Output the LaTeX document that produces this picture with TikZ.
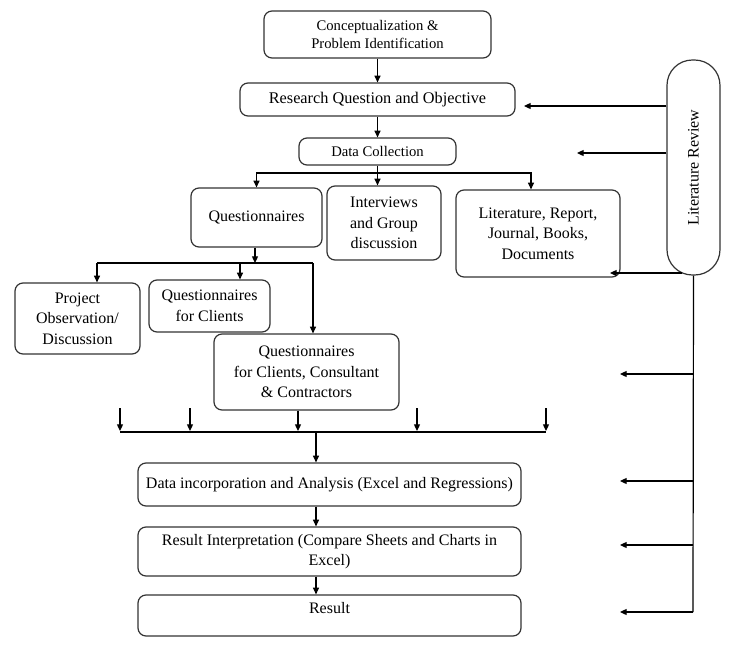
\documentclass[tikz,border=0pt]{standalone}
\usepackage{fontspec}
\setmainfont{Liberation Serif}
\usetikzlibrary{arrows.meta,calc}
\begin{document}
\begin{tikzpicture}[x=0.75pt,y=-0.75pt,
  box/.style={draw=black!80,line width=0.9pt,rounded corners=6pt,align=center,inner sep=1pt,font=\fontsize{12}{15.5}\selectfont},
  arr/.style={line width=0.9pt,-{Triangle[length=5pt,width=4.5pt]}},
  ln/.style={line width=0.9pt}]
\useasboundingbox (0,0) rectangle (744,650);
% nodes
\node[box,minimum width=227*0.75pt,minimum height=47*0.75pt,font=\fontsize{11}{14}\selectfont] (concept) at (377.5,34.5) {Conceptualization \&\\ Problem Identification};
\node[box,minimum width=275*0.75pt,minimum height=33*0.75pt,font=\fontsize{12.2}{14}\selectfont] (rq) at (377.5,99.5) {Research Question and Objective};
\node[box,minimum width=157*0.75pt,minimum height=27*0.75pt,font=\fontsize{11}{13}\selectfont] (dc) at (377.5,151.5) {Data Collection};
\node[box,minimum width=131*0.75pt,minimum height=59*0.75pt] (quest) at (256.5,217.5) {Questionnaires};
\node[box,minimum width=114*0.75pt,minimum height=74*0.75pt] (interv) at (384,223) {Interviews\\ and Group\\ discussion};
\node[box,minimum width=164*0.75pt,minimum height=87*0.75pt] (lit) at (538,233.5) {Literature, Report,\\ Journal, Books,\\ Documents};
\node[box,minimum width=53*0.75pt,minimum height=215*0.75pt,rounded corners=19pt] (litrev) at (693.5,167.5) {};
\node[rotate=90,font=\fontsize{12}{14}\selectfont] (litrevt) at (litrev.center) {Literature Review};
\node[box,minimum width=125*0.75pt,minimum height=71*0.75pt] (proj) at (77.5,318.5) {Project\\ Observation/\\ Discussion};
\node[box,minimum width=121*0.75pt,minimum height=52*0.75pt] (qcl) at (209.5,306) {Questionnaires\\ for Clients};
\node[box,minimum width=185*0.75pt,minimum height=76*0.75pt] (qcc) at (306.5,372) {Questionnaires\\ for Clients, Consultant\\ \& Contractors};
\node[box,minimum width=383*0.75pt,minimum height=43*0.75pt] (dia) at (329.5,484.5) {Data incorporation and Analysis (Excel and Regressions)};
\node[box,minimum width=383*0.75pt,minimum height=49*0.75pt] (ri) at (329.5,551.5) {Result Interpretation (Compare Sheets and Charts in\\ Excel)};
\node[box,minimum width=383*0.75pt,minimum height=41*0.75pt] (res) at (329.5,615.5) {Result\\[-4pt]\mbox{}};
% top connectors
\draw[arr] (concept) -- (rq);
\draw[arr] (rq) -- (dc);
\coordinate (j1) at (377.5,173);
\coordinate (litin) at (531,173);
\draw[arr] (dc.south) -- (dc.south |- interv.north);
\draw[arr] (j1) -| (quest.north);
\draw[arr] (j1) -- (litin) -- (litin |- lit.north);
% questionnaires split
\coordinate (j2) at (255,263);
\coordinate (p1) at (97,263);
\coordinate (p2) at (240,263);
\coordinate (p3) at (313,263);
\draw[arr] (quest.south -| j2) -- (j2);
\draw[ln] (p1) -- (p3);
\draw[arr] (p1) -- (p1 |- proj.north);
\draw[arr] (p2) -- (p2 |- qcl.north);
\draw[arr] (p3) -- (p3 |- qcc.north);
% bottom collector
\coordinate (b1) at (120,432);
\coordinate (b2) at (190,432);
\coordinate (b3) at (298,432);
\coordinate (b4) at (417,432);
\coordinate (b5) at (546,432);
\coordinate (b0) at (316,432);
\draw[ln] (b1) -- (b5);
\foreach \c in {b1,b2,b4,b5} \draw[arr] ($(\c)+(0,-24)$) -- ($(\c)+(0,-1)$);
\draw[arr] (qcc.south -| b3) -- ($(b3)+(0,-1)$);
\draw[arr] (b0) -- (b0 |- dia.north);
\coordinate (m) at (316,0);
\draw[arr] (dia.south -| m) -- (ri.north -| m);
\draw[arr] (ri.south -| m) -- (res.north -| m);
% literature review feedback
\coordinate (v1) at (693,612);
\coordinate (litcorner) at (610,273);
\draw[ln] (litrev.south) -- (v1);
\draw[arr] (litrev.west |- 0,106) -- (524,106);
\draw[arr] (litrev.west |- 0,153) -- (577,153);
\draw[arr] (682,273) -- (litcorner);
\foreach \yy in {374,481,545,612} \draw[arr] (693,\yy) -- (620,\yy);
\end{tikzpicture}
\end{document}
